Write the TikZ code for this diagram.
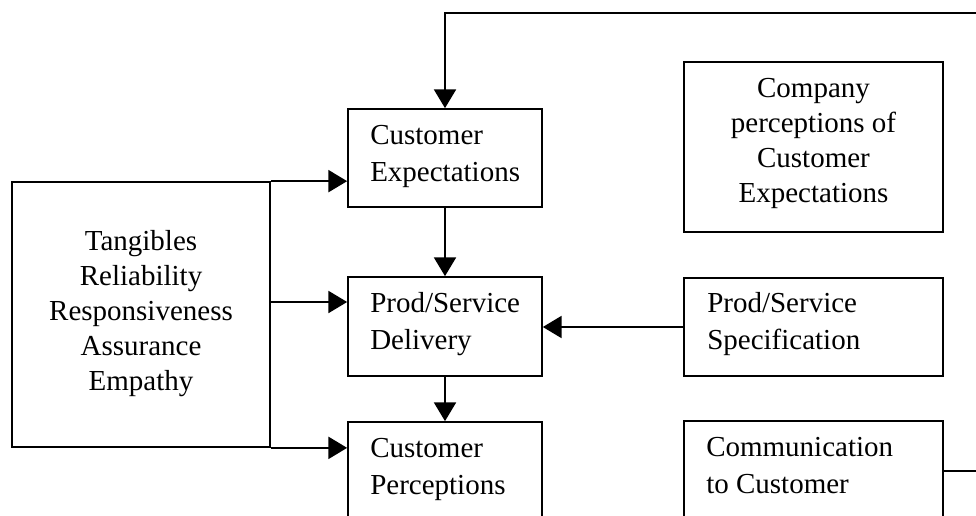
\documentclass[tikz,border=0pt]{standalone}
\usepackage{fontspec}
\setmainfont{Liberation Serif}
\usetikzlibrary{arrows.meta}
\begin{document}
\begin{tikzpicture}[x=0.75pt,y=-0.75pt,
  box/.style={draw,line width=1.3pt,inner sep=0pt,minimum width=#1*0.75pt},
  lt/.style={inner sep=0pt,anchor=base west,font=\fontsize{21.75pt}{28.1pt}\selectfont},
  ct/.style={inner sep=0pt,anchor=base,font=\fontsize{21.75pt}{26.25pt}\selectfont},
  conn/.style={line width=1.3pt,-{Triangle[length=14pt,width=16.5pt]}},
  feed/.style={line width=1.3pt}]
\useasboundingbox (0,0) rectangle (976,515);
\clip (0,0) rectangle (976,515);
% boxes
\node[box=194,minimum height=73.5pt] (exp) at (445,158) {};
\node[box=194,minimum height=74.25pt] (del) at (445,326.5) {};
\node[box=194,minimum height=75pt] (per) at (445,472) {};
\node[box=259,minimum height=127.5pt] (comp) at (813.5,147) {};
\node[box=259,minimum height=73.5pt] (spec) at (813.5,327) {};
\node[box=259,minimum height=75pt] (comm) at (813.5,471) {};
\node[box=258,minimum height=198.75pt] (tan) at (141,314.5) {};
% texts
\node[lt] (exptxt) at (370,144) {\begin{tabular}[t]{@{}l@{}}Customer\\Expectations\end{tabular}};
\node[lt] (deltxt) at (370,312) {\begin{tabular}[t]{@{}l@{}}Prod/Service\\Delivery\end{tabular}};
\node[lt] (pertxt) at (370,457) {\begin{tabular}[t]{@{}l@{}}Customer\\Perceptions\end{tabular}};
\node[lt] (spectxt) at (707,312) {\begin{tabular}[t]{@{}l@{}}Prod/Service\\Specification\end{tabular}};
\node[lt] (commtxt) at (706,456) {\begin{tabular}[t]{@{}l@{}}Communication\\to Customer\end{tabular}};
\node[ct] (comptxt) at (813.5,97) {\begin{tabular}[t]{@{}c@{}}Company\\perceptions of\\Customer\\Expectations\end{tabular}};
\node[ct] (tantxt) at (141,250) {\begin{tabular}[t]{@{}c@{}}Tangibles\\Reliability\\Responsiveness\\Assurance\\Empathy\end{tabular}};
% helper coordinates
\coordinate (tanmid) at (270,302);
\coordinate (fr) at (1010,471);
\coordinate (ftop) at (1010,13);
\coordinate (fl) at (445,13);
% connectors
\draw[conn] (exp.south) -- (del.north);
\draw[conn] (del.south) -- (per.north);
\draw[conn] (spec.west) -- (spec.west -| del.east);
\draw[conn] (tan.north east) -- (tan.north east -| exp.west);
\draw[conn] (tanmid) -- (tanmid -| del.west);
\draw[conn] (tan.south east) -- (tan.south east -| per.west);
\draw[conn] (comm.east) -- (fr) -- (ftop) -- (fl) -- (exp.north);
\end{tikzpicture}
\end{document}
